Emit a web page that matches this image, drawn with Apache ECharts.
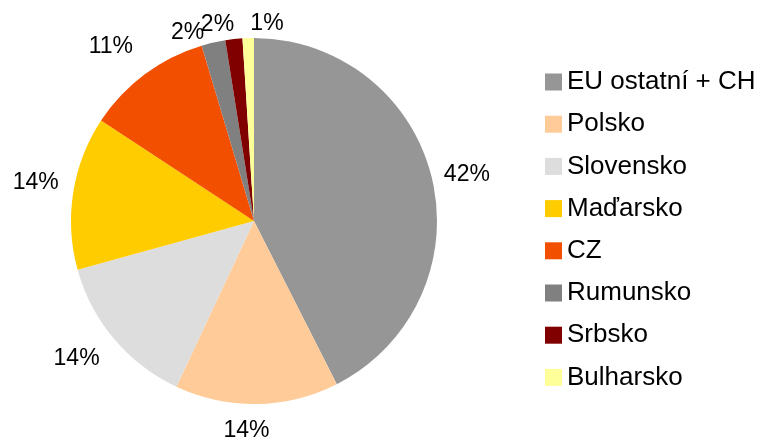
<!DOCTYPE html>
<html>
<head>
<meta charset="utf-8">
<script src="https://cdn.jsdelivr.net/npm/echarts@6/dist/echarts.min.js"></script>
<style>html,body{margin:0;padding:0;background:#fff}#c{width:761px;height:440px}</style>
</head>
<body>
<div id="c"></div>
<script>
// Data
const categories = ['EU ostatní + CH', 'Polsko', 'Slovensko', 'Maďarsko', 'CZ', 'Rumunsko', 'Srbsko', 'Bulharsko'];
const shares = [42.4, 14.4, 13.7, 13.5, 11.1, 2.1, 1.5, 1.0];

// Styling
const colors = ['#969696', '#FFCC99', '#DDDDDD', '#FFCC00', '#F25000', '#808080', '#800000', '#FFFF99'];
const labelOffsets = [[-4, 6], [-11, -13], [-7, -6], [2, -4], [-10, 5], [-17, 29], [-12, 25], [20, 26]];
const FONT = '"Liberation Sans", Arial, sans-serif';

const chart = echarts.init(document.getElementById('c'), null, { renderer: 'canvas' });

const pieData = categories.map((n, i) => ({ name: n, value: shares[i], itemStyle: { color: colors[i] } }));
const labelData = categories.map((n, i) => ({
  name: n, value: shares[i],
  label: { offset: labelOffsets[i] }
}));

chart.setOption({
  animation: false,
  backgroundColor: '#fff',
  legend: {
    orient: 'vertical',
    left: 545,
    top: 69,
    padding: 0,
    itemWidth: 17,
    itemHeight: 17,
    itemGap: 16.2,
    icon: 'rect',
    data: categories,
    textStyle: { fontFamily: FONT, fontSize: 26, color: '#000' }
  },
  series: [
    {
      type: 'pie',
      center: [254, 221],
      radius: [0, 183],
      startAngle: 90,
      clockwise: true,
      label: { show: false },
      labelLine: { show: false },
      emphasis: { disabled: true },
      data: pieData
    },
    {
      type: 'pie',
      center: [254, 221],
      radius: [203, 237],
      startAngle: 90,
      clockwise: true,
      silent: true,
      legendHoverLink: false,
      avoidLabelOverlap: false,
      labelLayout: { hideOverlap: false },
      itemStyle: { color: 'rgba(0,0,0,0)' },
      emphasis: { disabled: true },
      labelLine: { show: false },
      label: {
        show: true,
        position: 'inside',
        fontFamily: FONT,
        fontSize: 23,
        color: '#000',
        formatter: p => Math.round(p.value) + '%'
      },
      data: labelData
    }
  ]
});
</script>
</body>
</html>
